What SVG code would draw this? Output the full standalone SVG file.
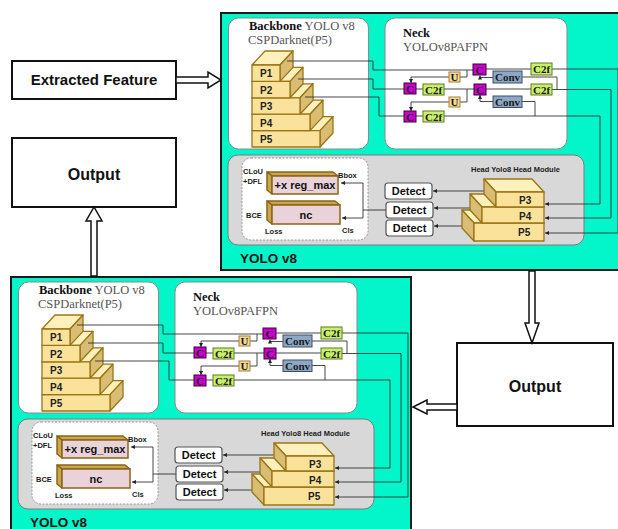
<svg xmlns="http://www.w3.org/2000/svg" width="618" height="529" viewBox="0 0 618 529">
<style>
.bg{fill:#fff}
.teal{fill:#03F6CA;stroke:#1a1a1a;stroke-width:2}
.panel{fill:#fff;stroke:#8a8a8a;stroke-width:1}
.headp{fill:#d8d8d8;stroke:#7c7c7c;stroke-width:1}
.lossp{fill:#fff;stroke:#9a9a9a;stroke-width:1;stroke-dasharray:2 1.5}
.ttl{font-family:"Liberation Serif",serif;font-size:12.5px;fill:#555}
.ttlb{font-weight:bold;fill:#111}
.stf{fill:#FBE29A;stroke:#9A7516;stroke-width:1.3;stroke-linejoin:round}
.stt{fill:#FFF0BC;stroke:#9A7516;stroke-width:1.3;stroke-linejoin:round}
.sts{fill:#D9BD74;stroke:#9A7516;stroke-width:1.3;stroke-linejoin:round}
.plab{font-family:"Liberation Sans",sans-serif;font-weight:bold;font-size:10px;fill:#222}
.bc{fill:#CC00CC;stroke:#3a003a;stroke-width:1}
.bu{fill:#F6D990;stroke:#A08040;stroke-width:1}
.bconv{fill:#8DA8C6;stroke:#3E4E66;stroke-width:1}
.bc2f{fill:#C9F06C;stroke:#5E7A20;stroke-width:1}
.nl{font-family:"Liberation Serif",serif;font-weight:bold;font-size:11px;fill:#1a1a1a;text-anchor:middle}
.ln{fill:none;stroke:#333;stroke-width:0.9}
.det{fill:#fff;stroke:#555;stroke-width:1.2}
.dt{font-family:"Liberation Sans",sans-serif;font-weight:bold;font-size:11px;fill:#111;text-anchor:middle}
.lb{fill:#E9D2DA;stroke:#8A6514;stroke-width:1.5}
.lbs{fill:#C9A550;stroke:#8A6514;stroke-width:1.5;stroke-linejoin:round}
.lt{font-family:"Liberation Sans",sans-serif;font-weight:bold;font-size:11px;fill:#111;text-anchor:middle}
.sm{font-family:"Liberation Sans",sans-serif;font-weight:bold;font-size:7.5px;fill:#222}
.yl{font-family:"Liberation Sans",sans-serif;font-weight:bold;font-size:13.5px;fill:#111}
.box{fill:#fff;stroke:#111;stroke-width:2}
.big{font-family:"Liberation Sans",sans-serif;font-weight:bold;fill:#111;text-anchor:middle}
.harrow{fill:#fff;stroke:#111;stroke-width:1.5;stroke-linejoin:miter}
</style>
<defs>
<marker id="ah" viewBox="0 0 6 6" refX="6" refY="3" markerWidth="4" markerHeight="4" markerUnits="userSpaceOnUse" orient="auto">
<path d="M0,0 L6,3 L0,6 z" fill="#222"/>
</marker>
</defs>
<rect class="bg" x="0" y="0" width="618" height="529"/>

<!-- input and output boxes -->
<g id="extracted-feature">
<rect class="box" x="12" y="61" width="164" height="38"/>
<text class="big" x="94" y="84.5" font-size="15">Extracted Feature</text>
</g>
<g id="output-left">
<rect class="box" x="12" y="138" width="164" height="69"/>
<text class="big" x="94" y="180" font-size="16">Output</text>
</g>
<g id="output-right">
<rect class="box" x="457" y="343" width="156" height="83"/>
<text class="big" x="535" y="392" font-size="16">Output</text>
</g>

<!-- first YOLO v8 stage -->
<g id="yolo-top">
<rect class="teal" x="221" y="13" width="400" height="257"/>
<g id="backbone-top">
<rect class="panel" x="228.5" y="18" width="140" height="131" rx="10"/>
<text class="ttl" x="249" y="29.5"><tspan class="ttlb">Backbone</tspan> YOLO v8</text>
<text class="ttl" x="248" y="44">CSPDarknet(P5)</text>
<polygon class="stt" points="252,130.6 265,116.6 333,116.6 320,130.6"/>
<polygon class="sts" points="320,130.6 333,116.6 333,133 320,147"/>
<rect class="stf" x="252" y="130.6" width="68" height="16.4"/>
<polygon class="stt" points="252,114.2 265,100.2 323,100.2 310,114.2"/>
<polygon class="sts" points="310,114.2 323,100.2 323,116.6 310,130.6"/>
<rect class="stf" x="252" y="114.2" width="58" height="16.4"/>
<polygon class="stt" points="252,97.8 265,83.8 313,83.8 300,97.8"/>
<polygon class="sts" points="300,97.8 313,83.8 313,100.2 300,114.2"/>
<rect class="stf" x="252" y="97.8" width="48" height="16.4"/>
<polygon class="stt" points="252,81.4 265,67.4 303,67.4 290,81.4"/>
<polygon class="sts" points="290,81.4 303,67.4 303,83.8 290,97.8"/>
<rect class="stf" x="252" y="81.4" width="38" height="16.4"/>
<polygon class="stt" points="252,65 265,51 293,51 280,65"/>
<polygon class="sts" points="280,65 293,51 293,67.4 280,81.4"/>
<rect class="stf" x="252" y="65" width="28" height="16.4"/>
<text class="plab" x="260" y="77">P1</text>
<text class="plab" x="260" y="93.5">P2</text>
<text class="plab" x="260" y="110">P3</text>
<text class="plab" x="260" y="126.5">P4</text>
<text class="plab" x="260" y="143">P5</text>
</g>
<g id="neck-top">
<rect class="panel" x="385" y="18" width="182" height="131" rx="10"/>
<text class="ttl ttlb" x="403" y="36.5">Neck</text>
<text class="ttl" x="403" y="51">YOLOv8PAFPN</text>
</g>
<g id="head-top">
<rect class="headp" x="228" y="155" width="356" height="90" rx="10"/>
<rect class="lossp" x="242" y="158" width="126" height="82" rx="9"/>
<text class="sm" x="471" y="172">Head Yolo8 Head Module</text>
</g>
<g id="yolo-top-links">
<path class="ln" d="M287,61 H373 V70 H473 M467,70 V77 H460"/>
<path class="ln" d="M449,77 H411 V83" marker-end="url(#ah)"/>
<path class="ln" d="M298,79 H373 V89 H404 M416,89 H423 M444,89 H474 M467,89 V102 H460"/>
<path class="ln" d="M449,102 H411 V111" marker-end="url(#ah)"/>
<path class="ln" d="M305,97 H379 V116 H404 M416,116 H423"/>
<path class="ln" d="M444,116 H600 V204 H545" marker-end="url(#ah)"/>
<path class="ln" d="M522,101.5 H535 V116"/>
<path class="ln" d="M493,101.5 H480 V95" marker-end="url(#ah)"/>
<path class="ln" d="M493,77.5 H480 V75.5" marker-end="url(#ah)"/>
<path class="ln" d="M486,69 H531 M486,89 H531 M522,77 H557 V89.5"/>
<path class="ln" d="M552,69 H618 V233 H545" marker-end="url(#ah)"/>
<path class="ln" d="M552,89.5 H611 V218 H545" marker-end="url(#ah)"/>
<path class="ln" d="M488,191 H433" marker-end="url(#ah)"/>
<path class="ln" d="M477,208 H434" marker-end="url(#ah)"/>
<path class="ln" d="M466,226 H434" marker-end="url(#ah)"/>
<path class="ln" d="M386,210 H363 M363,183 V218"/>
<path class="ln" d="M363,183 H341" marker-end="url(#ah)"/>
<path class="ln" d="M363,218 H342" marker-end="url(#ah)"/>
</g>
<g id="neck-blocks-top">
<rect class="bc" x="473" y="64" width="13" height="11"/><text class="nl" x="479.5" y="73.5">C</text>
<rect class="bc" x="404" y="83" width="12" height="11"/><text class="nl" x="410" y="92.5">C</text>
<rect class="bc" x="474" y="84" width="12" height="11"/><text class="nl" x="480" y="93.5">C</text>
<rect class="bc" x="404" y="111" width="12" height="11"/><text class="nl" x="410" y="120.5">C</text>
<rect class="bu" x="449" y="72" width="11" height="10"/><text class="nl" x="454.5" y="81">U</text>
<rect class="bu" x="449" y="97" width="11" height="10"/><text class="nl" x="454.5" y="106">U</text>
<rect class="bconv" x="493" y="71" width="29" height="12"/><text class="nl" x="507.5" y="81" font-size="12">Conv</text>
<rect class="bconv" x="493" y="96" width="29" height="11.5"/><text class="nl" x="507.5" y="106" font-size="12">Conv</text>
<rect class="bc2f" x="531" y="63" width="21" height="12"/><text class="nl" x="541.5" y="73">C2f</text>
<rect class="bc2f" x="423" y="84" width="21" height="11"/><text class="nl" x="433.5" y="93.5">C2f</text>
<rect class="bc2f" x="531" y="84" width="21" height="11"/><text class="nl" x="541.5" y="93.5">C2f</text>
<rect class="bc2f" x="423" y="111" width="21" height="11"/><text class="nl" x="433.5" y="120.5">C2f</text>
</g>
<g id="head-stairs-top">
<polygon class="stt" points="474,223 462,210 532,210 544,223"/>
<polygon class="sts" points="474,223 462,210 462,228 474,241"/>
<rect class="stf" x="474" y="223" width="70" height="18"/>
<polygon class="stt" points="482,207 470,194 532,194 544,207"/>
<polygon class="sts" points="482,207 470,194 470,210 482,223"/>
<rect class="stf" x="482" y="207" width="62" height="16"/>
<polygon class="stt" points="496,192 484,179 532,179 544,192"/>
<polygon class="sts" points="496,192 484,179 484,194 496,207"/>
<rect class="stf" x="496" y="192" width="48" height="15"/>
<text class="plab" x="519" y="203.5">P3</text>
<text class="plab" x="519" y="219.5">P4</text>
<text class="plab" x="518" y="236">P5</text>
</g>
<g id="detect-top">
<rect class="det" x="385" y="183" width="47" height="16" rx="3"/><text class="dt" x="408.5" y="195">Detect</text>
<rect class="det" x="386" y="202" width="47" height="16" rx="3"/><text class="dt" x="409.5" y="214">Detect</text>
<rect class="det" x="386" y="220" width="47" height="16" rx="3"/><text class="dt" x="409.5" y="232">Detect</text>
</g>
<g id="loss-top">
<polygon class="lbs" points="272,176 267,172 333,172 338,176"/>
<polygon class="lbs" points="272,176 267,172 267,190 272,194"/>
<rect class="lb" x="272" y="176" width="66" height="18"/>
<text class="lt" x="305" y="189">+x reg_max</text>
<polygon class="lbs" points="272,205 267,201 335,201 340,205"/>
<polygon class="lbs" points="272,205 267,201 267,220 272,224"/>
<rect class="lb" x="272" y="205" width="68" height="19"/>
<text class="lt" x="306" y="219">nc</text>
<text class="sm" x="243" y="174">CLoU</text>
<text class="sm" x="243" y="184">+DFL</text>
<text class="sm" x="338" y="177.5">Bbox</text>
<text class="sm" x="246" y="218">BCE</text>
<text class="sm" x="265" y="234">Loss</text>
<text class="sm" x="342" y="233">Cls</text>
</g>
<text class="yl" x="240" y="263">YOLO v8</text>
</g>

<!-- second YOLO v8 stage, same layout shifted down-left -->
<g id="yolo-bottom" transform="translate(-210,264)">
<rect class="teal" x="221" y="13" width="400" height="257"/>
<g id="backbone-bottom">
<rect class="panel" x="228.5" y="18" width="140" height="131" rx="10"/>
<text class="ttl" x="249" y="29.5"><tspan class="ttlb">Backbone</tspan> YOLO v8</text>
<text class="ttl" x="248" y="44">CSPDarknet(P5)</text>
<polygon class="stt" points="252,130.6 265,116.6 333,116.6 320,130.6"/>
<polygon class="sts" points="320,130.6 333,116.6 333,133 320,147"/>
<rect class="stf" x="252" y="130.6" width="68" height="16.4"/>
<polygon class="stt" points="252,114.2 265,100.2 323,100.2 310,114.2"/>
<polygon class="sts" points="310,114.2 323,100.2 323,116.6 310,130.6"/>
<rect class="stf" x="252" y="114.2" width="58" height="16.4"/>
<polygon class="stt" points="252,97.8 265,83.8 313,83.8 300,97.8"/>
<polygon class="sts" points="300,97.8 313,83.8 313,100.2 300,114.2"/>
<rect class="stf" x="252" y="97.8" width="48" height="16.4"/>
<polygon class="stt" points="252,81.4 265,67.4 303,67.4 290,81.4"/>
<polygon class="sts" points="290,81.4 303,67.4 303,83.8 290,97.8"/>
<rect class="stf" x="252" y="81.4" width="38" height="16.4"/>
<polygon class="stt" points="252,65 265,51 293,51 280,65"/>
<polygon class="sts" points="280,65 293,51 293,67.4 280,81.4"/>
<rect class="stf" x="252" y="65" width="28" height="16.4"/>
<text class="plab" x="260" y="77">P1</text>
<text class="plab" x="260" y="93.5">P2</text>
<text class="plab" x="260" y="110">P3</text>
<text class="plab" x="260" y="126.5">P4</text>
<text class="plab" x="260" y="143">P5</text>
</g>
<g id="neck-bottom">
<rect class="panel" x="385" y="18" width="182" height="131" rx="10"/>
<text class="ttl ttlb" x="403" y="36.5">Neck</text>
<text class="ttl" x="403" y="51">YOLOv8PAFPN</text>
</g>
<g id="head-bottom">
<rect class="headp" x="228" y="155" width="356" height="90" rx="10"/>
<rect class="lossp" x="242" y="158" width="126" height="82" rx="9"/>
<text class="sm" x="471" y="172">Head Yolo8 Head Module</text>
</g>
<g id="yolo-bottom-links">
<path class="ln" d="M287,61 H373 V70 H473 M467,70 V77 H460"/>
<path class="ln" d="M449,77 H411 V83" marker-end="url(#ah)"/>
<path class="ln" d="M298,79 H373 V89 H404 M416,89 H423 M444,89 H474 M467,89 V102 H460"/>
<path class="ln" d="M449,102 H411 V111" marker-end="url(#ah)"/>
<path class="ln" d="M305,97 H379 V116 H404 M416,116 H423"/>
<path class="ln" d="M444,116 H600 V204 H545" marker-end="url(#ah)"/>
<path class="ln" d="M522,101.5 H535 V116"/>
<path class="ln" d="M493,101.5 H480 V95" marker-end="url(#ah)"/>
<path class="ln" d="M493,77.5 H480 V75.5" marker-end="url(#ah)"/>
<path class="ln" d="M486,69 H531 M486,89 H531 M522,77 H557 V89.5"/>
<path class="ln" d="M552,69 H618 V233 H545" marker-end="url(#ah)"/>
<path class="ln" d="M552,89.5 H611 V218 H545" marker-end="url(#ah)"/>
<path class="ln" d="M488,191 H433" marker-end="url(#ah)"/>
<path class="ln" d="M477,208 H434" marker-end="url(#ah)"/>
<path class="ln" d="M466,226 H434" marker-end="url(#ah)"/>
<path class="ln" d="M386,210 H363 M363,183 V218"/>
<path class="ln" d="M363,183 H341" marker-end="url(#ah)"/>
<path class="ln" d="M363,218 H342" marker-end="url(#ah)"/>
</g>
<g id="neck-blocks-bottom">
<rect class="bc" x="473" y="64" width="13" height="11"/><text class="nl" x="479.5" y="73.5">C</text>
<rect class="bc" x="404" y="83" width="12" height="11"/><text class="nl" x="410" y="92.5">C</text>
<rect class="bc" x="474" y="84" width="12" height="11"/><text class="nl" x="480" y="93.5">C</text>
<rect class="bc" x="404" y="111" width="12" height="11"/><text class="nl" x="410" y="120.5">C</text>
<rect class="bu" x="449" y="72" width="11" height="10"/><text class="nl" x="454.5" y="81">U</text>
<rect class="bu" x="449" y="97" width="11" height="10"/><text class="nl" x="454.5" y="106">U</text>
<rect class="bconv" x="493" y="71" width="29" height="12"/><text class="nl" x="507.5" y="81" font-size="12">Conv</text>
<rect class="bconv" x="493" y="96" width="29" height="11.5"/><text class="nl" x="507.5" y="106" font-size="12">Conv</text>
<rect class="bc2f" x="531" y="63" width="21" height="12"/><text class="nl" x="541.5" y="73">C2f</text>
<rect class="bc2f" x="423" y="84" width="21" height="11"/><text class="nl" x="433.5" y="93.5">C2f</text>
<rect class="bc2f" x="531" y="84" width="21" height="11"/><text class="nl" x="541.5" y="93.5">C2f</text>
<rect class="bc2f" x="423" y="111" width="21" height="11"/><text class="nl" x="433.5" y="120.5">C2f</text>
</g>
<g id="head-stairs-bottom">
<polygon class="stt" points="474,223 462,210 532,210 544,223"/>
<polygon class="sts" points="474,223 462,210 462,228 474,241"/>
<rect class="stf" x="474" y="223" width="70" height="18"/>
<polygon class="stt" points="482,207 470,194 532,194 544,207"/>
<polygon class="sts" points="482,207 470,194 470,210 482,223"/>
<rect class="stf" x="482" y="207" width="62" height="16"/>
<polygon class="stt" points="496,192 484,179 532,179 544,192"/>
<polygon class="sts" points="496,192 484,179 484,194 496,207"/>
<rect class="stf" x="496" y="192" width="48" height="15"/>
<text class="plab" x="519" y="203.5">P3</text>
<text class="plab" x="519" y="219.5">P4</text>
<text class="plab" x="518" y="236">P5</text>
</g>
<g id="detect-bottom">
<rect class="det" x="385" y="183" width="47" height="16" rx="3"/><text class="dt" x="408.5" y="195">Detect</text>
<rect class="det" x="386" y="202" width="47" height="16" rx="3"/><text class="dt" x="409.5" y="214">Detect</text>
<rect class="det" x="386" y="220" width="47" height="16" rx="3"/><text class="dt" x="409.5" y="232">Detect</text>
</g>
<g id="loss-bottom">
<polygon class="lbs" points="272,176 267,172 333,172 338,176"/>
<polygon class="lbs" points="272,176 267,172 267,190 272,194"/>
<rect class="lb" x="272" y="176" width="66" height="18"/>
<text class="lt" x="305" y="189">+x reg_max</text>
<polygon class="lbs" points="272,205 267,201 335,201 340,205"/>
<polygon class="lbs" points="272,205 267,201 267,220 272,224"/>
<rect class="lb" x="272" y="205" width="68" height="19"/>
<text class="lt" x="306" y="219">nc</text>
<text class="sm" x="243" y="174">CLoU</text>
<text class="sm" x="243" y="184">+DFL</text>
<text class="sm" x="338" y="177.5">Bbox</text>
<text class="sm" x="246" y="218">BCE</text>
<text class="sm" x="265" y="234">Loss</text>
<text class="sm" x="342" y="233">Cls</text>
</g>
<text class="yl" x="240" y="263">YOLO v8</text>
</g>

<!-- hollow flow arrows between the stages and boxes -->
<g id="connectors">
<polygon class="harrow" points="176,77 208,77 208,72 221,80 208,88 208,83 176,83"/>
<polygon class="harrow" points="91,276 91,221 86,221 94,207 102,221 97,221 97,276"/>
<polygon class="harrow" points="529,271 529,323 525,323 532,343 539,323 535,323 535,271"/>
<polygon class="harrow" points="457,404 427,404 427,400 413,407 427,414 427,410 457,410"/>
</g>
</svg>
